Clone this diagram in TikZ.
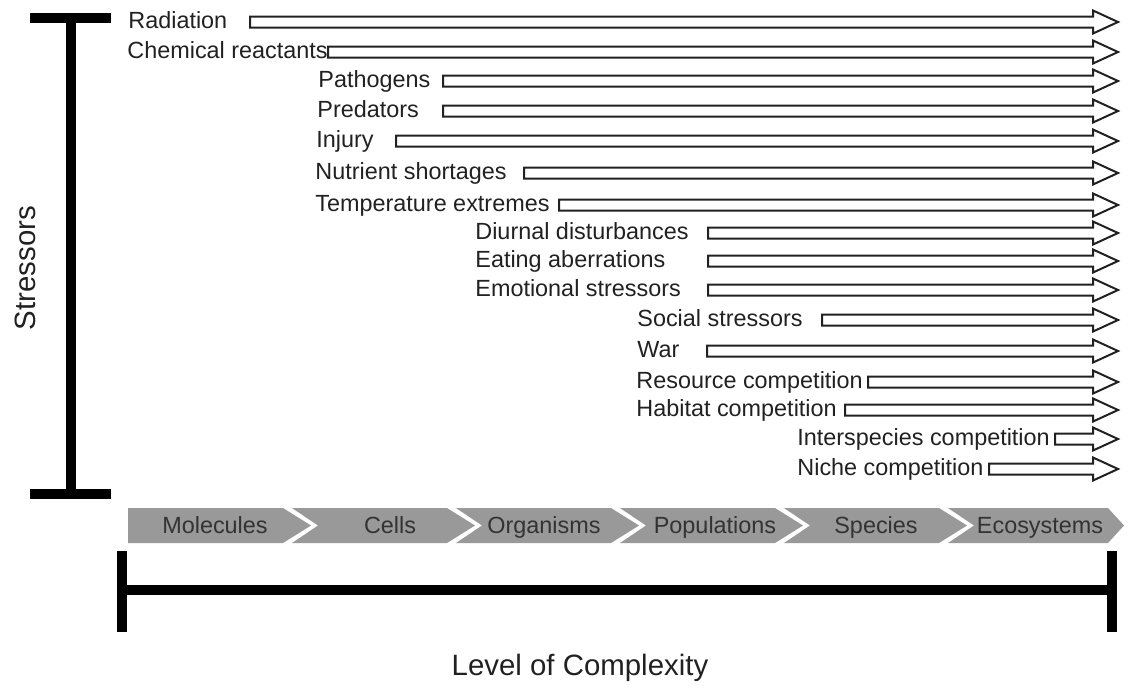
\documentclass[tikz,border=0pt]{standalone}
\usepackage{fontspec}
\setmainfont{Liberation Sans}
\usepackage{tikz}
\usetikzlibrary{positioning}

\definecolor{inkgray}{gray}{0.13}
\definecolor{bandgray}{gray}{0.6}

\begin{document}
\begin{tikzpicture}[
  x=0.5pt, y=-0.5pt,
  stresslabel/.style={anchor=base west, inner sep=0pt, text=inkgray,
    font=\fontsize{11.7pt}{14pt}\selectfont},
  stressarrow/.style={draw=inkgray, line width=1pt, fill=white, line join=miter},
  levelband/.style={fill=bandgray},
  levellabel/.style={anchor=base, inner sep=0pt, text=black!80,
    font=\fontsize{11.7pt}{14pt}\selectfont},
  axislabel/.style={inner sep=0pt, text=inkgray,
    font=\fontsize{14.7pt}{17pt}\selectfont},
  axisbar/.style={line width=5pt, black}
]
\useasboundingbox (0,0) rectangle (1128,687);

% stressor axis
\coordinate (stop) at (71,18);
\coordinate (sbot) at (71,494);
\draw[axisbar] (stop) -- (sbot);
\draw[axisbar] ([xshift=-20.5pt]stop) -- ([xshift=20pt]stop);
\draw[axisbar] ([xshift=-20.5pt]sbot) -- ([xshift=20pt]sbot);
\node[axislabel, rotate=90] (stressors) at (25,268) {Stressors};

% stressors and the levels they reach
\foreach \y/\lx/\ax/\txt [count=\i] in {
  22/128/250/Radiation,
  52/127/328/Chemical reactants,
  81/318/443/Pathogens,
  111/317/443/Predators,
  141/316/396/Injury,
  173/315/524/Nutrient shortages,
  205/315/559/Temperature extremes,
  233/475/708/Diurnal disturbances,
  261/475/708/Eating aberrations,
  290/475/708/Emotional stressors,
  320/637/822/Social stressors,
  351/637/707/War,
  382/636/868/Resource competition,
  410/636/845/Habitat competition,
  439/797/1055/Interspecies competition,
  469/797/989/Niche competition}{
  \node[stresslabel] (s\i) at (\lx,\y+6.5) {\txt};
  \draw[stressarrow] (\ax,\y-5.5) -- (1093,\y-5.5) -- (1093,\y-11.5)
    -- (1118,\y) -- (1093,\y+11.5) -- (1093,\y+5.5) -- (\ax,\y+5.5) -- cycle;
}

% levels of complexity
\foreach \xa/\c/\t/\tx/\txt [count=\i] in {
  128/283/311/215/Molecules,
  292/447/475/390/Cells,
  456/611/639/544/Organisms,
  620/775/803/715/Populations,
  784/939/967/876/Species,
  948/1108/1124/1040/Ecosystems}{
  \ifnum\i=1
    \fill[levelband] (\xa,508) -- (\c,508) -- (\t,525.5) -- (\c,543) -- (\xa,543) -- cycle;
  \else
    \fill[levelband] (\xa,508) -- (\c,508) -- (\t,525.5) -- (\c,543) -- (\xa,543)
      -- (\xa+26,525.5) -- cycle;
  \fi
  \node[levellabel] (lvl\i) at (\tx,533) {\txt};
}

% complexity axis
\coordinate (cleft) at (122,590);
\coordinate (cright) at (1112,590);
\draw[axisbar] (cleft) -- (cright);
\draw[axisbar] ([yshift=19.5pt]cleft) -- ([yshift=-21pt]cleft);
\draw[axisbar] ([yshift=19.5pt]cright) -- ([yshift=-21pt]cright);
\node[axislabel, anchor=base] (complexity) at (580,675) {Level of Complexity};
\end{tikzpicture}
\end{document}
